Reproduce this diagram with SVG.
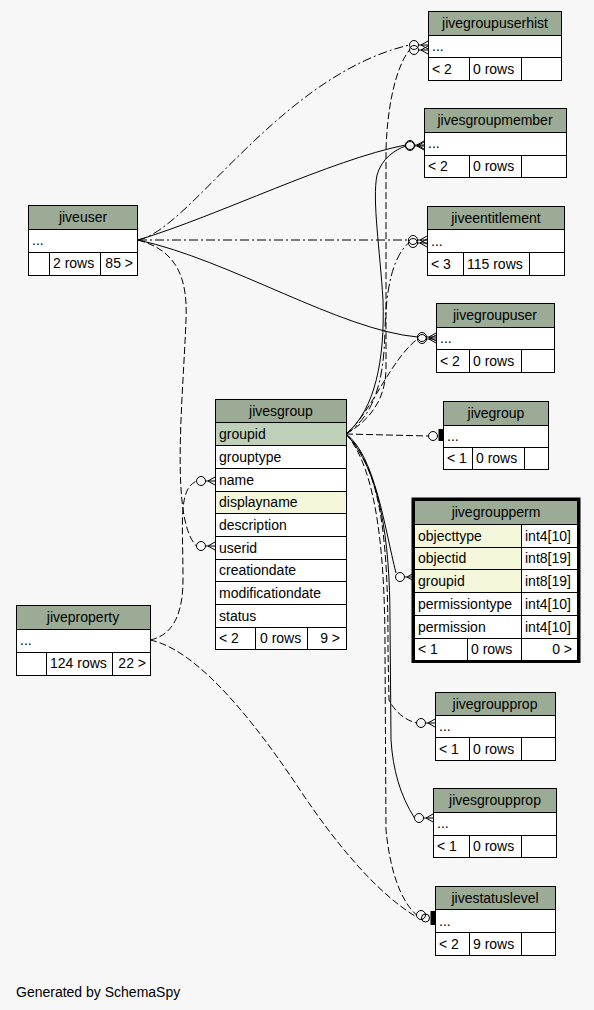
<svg xmlns="http://www.w3.org/2000/svg" xmlns:xlink="http://www.w3.org/1999/xlink" width="594" height="1010" viewBox="0 0 594 1010">
<style>
.t{font-family:"Liberation Sans",Arial,Helvetica,sans-serif;font-size:14px;fill:#000}
.c{text-anchor:middle}
.r{text-anchor:end}
.hdr{fill:#9bab96;stroke:#000;stroke-width:1}
.cell{fill:#fff;stroke:#000;stroke-width:1}
.pk{fill:#bed1b8;stroke:#000;stroke-width:1}
.idx{fill:#f4f7da;stroke:#000;stroke-width:1}
.e{fill:none;stroke:#000;stroke-width:1}
.d{stroke-dasharray:7,3}
.dd{stroke-dasharray:9,3,2,3}
.mk{fill:none;stroke:#000;stroke-width:1}
</style>
<defs>
<g id="cf" class="mk">
<circle cx="-14" cy="0" r="4.5"/>
<path d="M-9.5,0 L0,0 M-7,0 L0,-4 M-7,0 L0,4"/>
</g>
</defs>
<rect x="0" y="0" width="594" height="1010" fill="#f7f7f7"/>

<g id="connectors">
<path class="e dd" d="M138,240 C190,230 280,75 409.5,45"/>
<path class="e d" d="M346,434 C370,420 385,400 386,370 L386,150 C387,110 395,68 409.5,50"/>
<path class="e" d="M138,240 C220,215 330,160 405.5,145"/>
<path class="e" d="M346,434 C375,410 385,360 383,300 C380,250 372,200 377,175 C382,158 395,150 405.5,146"/>
<path class="e dd" d="M138,240 L408.5,240"/>
<path class="e dd" d="M346,434 C375,415 384,380 385,330 C386,290 392,258 408.5,243"/>
<path class="e" d="M138,240 C230,260 340,330 417.5,337"/>
<path class="e d" d="M346,434 C370,415 390,360 417.5,339"/>
<path class="e d" d="M346,434 L428.5,436"/>
<path class="e" d="M346,434 C375,455 385,530 396,573"/>
<path class="e d" d="M346,434 C385,470 388,560 388,650 L389,700 C395,712 405,720 416.5,723"/>
<path class="e" d="M346,434 C380,470 390,540 390,620 L391,740 C393,770 400,795 414.5,818"/>
<path class="e d" d="M346,434 C378,470 385,560 385,650 L386,830 C390,870 400,900 416.5,915"/>
<path class="e d" d="M138,240 C175,250 188,275 186,320 C183,400 170,520 196.5,546"/>
<path class="e d" d="M150,640 C175,635 183,610 183,580 C183,520 178,490 196.5,481"/>
<path class="e d" d="M150,640 C200,650 260,730 300,790 C340,850 380,895 416.5,917"/>
<use href="#cf" xlink:href="#cf" x="428" y="45"/>
<use href="#cf" xlink:href="#cf" x="428" y="50"/>
<use href="#cf" xlink:href="#cf" x="424" y="145"/>
<use href="#cf" xlink:href="#cf" x="424" y="146"/>
<use href="#cf" xlink:href="#cf" x="427" y="240"/>
<use href="#cf" xlink:href="#cf" x="427" y="243"/>
<use href="#cf" xlink:href="#cf" x="436" y="337"/>
<use href="#cf" xlink:href="#cf" x="436" y="339"/>
<use href="#cf" xlink:href="#cf" x="414" y="577"/>
<use href="#cf" xlink:href="#cf" x="435" y="723"/>
<use href="#cf" xlink:href="#cf" x="433" y="818"/>
<use href="#cf" xlink:href="#cf" x="215" y="481"/>
<use href="#cf" xlink:href="#cf" x="215" y="546"/>
<circle class="mk" cx="433" cy="436" r="4.5"/>
<rect x="438.5" y="429" width="4.5" height="12" fill="#000"/>
<circle class="mk" cx="421" cy="915" r="4.5"/>
<circle class="mk" cx="425.5" cy="918" r="4"/>
<rect x="430.5" y="911" width="4.5" height="14" fill="#000"/>
</g>

<g id="jivegroupuserhist">
<rect class="hdr" x="428.5" y="11.5" width="133" height="24"/>
<rect class="cell" x="428.5" y="35.5" width="133" height="22"/>
<rect class="cell" x="428.5" y="57.5" width="41" height="23"/>
<rect class="cell" x="469.5" y="57.5" width="52" height="23"/>
<rect class="cell" x="521.5" y="57.5" width="40" height="23"/>
<text class="t c" x="495" y="28">jivegroupuserhist</text>
<text class="t" x="432" y="51">...</text>
<text class="t" x="432" y="74">&lt; 2</text>
<text class="t" x="473" y="74">0 rows</text>
</g>

<g id="jivesgroupmember">
<rect class="hdr" x="424.5" y="108.5" width="142" height="24"/>
<rect class="cell" x="424.5" y="132.5" width="142" height="23"/>
<rect class="cell" x="424.5" y="155.5" width="45" height="22"/>
<rect class="cell" x="469.5" y="155.5" width="52" height="22"/>
<rect class="cell" x="521.5" y="155.5" width="45" height="22"/>
<text class="t c" x="495" y="125">jivesgroupmember</text>
<text class="t" x="428" y="148">...</text>
<text class="t" x="428" y="171">&lt; 2</text>
<text class="t" x="473" y="171">0 rows</text>
</g>

<g id="jiveentitlement">
<rect class="hdr" x="427.5" y="206.5" width="137" height="23"/>
<rect class="cell" x="427.5" y="229.5" width="137" height="23"/>
<rect class="cell" x="427.5" y="252.5" width="36" height="23"/>
<rect class="cell" x="463.5" y="252.5" width="66" height="23"/>
<rect class="cell" x="529.5" y="252.5" width="35" height="23"/>
<text class="t c" x="496" y="223">jiveentitlement</text>
<text class="t" x="431" y="246">...</text>
<text class="t" x="431" y="269">&lt; 3</text>
<text class="t" x="467" y="269">115 rows</text>
</g>

<g id="jivegroupuser">
<rect class="hdr" x="436.5" y="303.5" width="118" height="24"/>
<rect class="cell" x="436.5" y="327.5" width="118" height="22"/>
<rect class="cell" x="436.5" y="349.5" width="33" height="23"/>
<rect class="cell" x="469.5" y="349.5" width="52" height="23"/>
<rect class="cell" x="521.5" y="349.5" width="33" height="23"/>
<text class="t c" x="495" y="320">jivegroupuser</text>
<text class="t" x="440" y="343">...</text>
<text class="t" x="440" y="366">&lt; 2</text>
<text class="t" x="473" y="366">0 rows</text>
</g>

<g id="jivegroup">
<rect class="hdr" x="443.5" y="401.5" width="105" height="24"/>
<rect class="cell" x="443.5" y="425.5" width="105" height="22"/>
<rect class="cell" x="443.5" y="447.5" width="29" height="22"/>
<rect class="cell" x="472.5" y="447.5" width="52" height="22"/>
<rect class="cell" x="524.5" y="447.5" width="24" height="22"/>
<text class="t c" x="496" y="418">jivegroup</text>
<text class="t" x="447" y="441">...</text>
<text class="t" x="447" y="463">&lt; 1</text>
<text class="t" x="476" y="463">0 rows</text>
</g>

<g id="jivegroupperm">
<rect class="hdr" x="414.5" y="500.5" width="163" height="24"/>
<rect class="idx" x="414.5" y="524.5" width="107" height="23"/>
<rect class="cell" x="521.5" y="524.5" width="56" height="23"/>
<rect class="idx" x="414.5" y="547.5" width="107" height="22"/>
<rect class="cell" x="521.5" y="547.5" width="56" height="22"/>
<rect class="idx" x="414.5" y="569.5" width="107" height="23"/>
<rect class="cell" x="521.5" y="569.5" width="56" height="23"/>
<rect class="cell" x="414.5" y="592.5" width="107" height="23"/>
<rect class="cell" x="521.5" y="592.5" width="56" height="23"/>
<rect class="cell" x="414.5" y="615.5" width="107" height="23"/>
<rect class="cell" x="521.5" y="615.5" width="56" height="23"/>
<rect class="cell" x="414.5" y="638.5" width="53" height="22"/>
<rect class="cell" x="467.5" y="638.5" width="54" height="22"/>
<rect class="cell" x="521.5" y="638.5" width="56" height="22"/>
<rect x="413" y="499" width="166" height="162.5" fill="none" stroke="#000" stroke-width="3"/>
<text class="t c" x="496" y="517">jivegroupperm</text>
<text class="t" x="418" y="541">objecttype</text>
<text class="t" x="525" y="541">int4[10]</text>
<text class="t" x="418" y="563">objectid</text>
<text class="t" x="525" y="563">int8[19]</text>
<text class="t" x="418" y="586">groupid</text>
<text class="t" x="525" y="586">int8[19]</text>
<text class="t" x="418" y="609">permissiontype</text>
<text class="t" x="525" y="609">int4[10]</text>
<text class="t" x="418" y="632">permission</text>
<text class="t" x="525" y="632">int4[10]</text>
<text class="t" x="418" y="654">&lt; 1</text>
<text class="t" x="471" y="654">0 rows</text>
<text class="t r" x="572" y="654">0 &gt;</text>
</g>

<g id="jiveuser">
<rect class="hdr" x="28.5" y="205.5" width="109" height="24"/>
<rect class="cell" x="28.5" y="229.5" width="109" height="23"/>
<rect class="cell" x="28.5" y="252.5" width="21" height="23"/>
<rect class="cell" x="49.5" y="252.5" width="51" height="23"/>
<rect class="cell" x="100.5" y="252.5" width="37" height="23"/>
<text class="t c" x="83" y="222">jiveuser</text>
<text class="t" x="32" y="245">...</text>
<text class="t" x="53" y="268">2 rows</text>
<text class="t r" x="133" y="268">85 &gt;</text>
</g>

<g id="jivesgroup">
<rect class="hdr" x="215.5" y="399.5" width="131" height="23"/>
<rect class="pk" x="215.5" y="422.5" width="131" height="23"/>
<rect class="cell" x="215.5" y="445.5" width="131" height="23"/>
<rect class="cell" x="215.5" y="468.5" width="131" height="23"/>
<rect class="idx" x="215.5" y="491.5" width="131" height="22"/>
<rect class="cell" x="215.5" y="513.5" width="131" height="23"/>
<rect class="cell" x="215.5" y="536.5" width="131" height="23"/>
<rect class="cell" x="215.5" y="559.5" width="131" height="22"/>
<rect class="cell" x="215.5" y="581.5" width="131" height="23"/>
<rect class="cell" x="215.5" y="604.5" width="131" height="23"/>
<rect class="cell" x="215.5" y="627.5" width="40" height="22"/>
<rect class="cell" x="255.5" y="627.5" width="52" height="22"/>
<rect class="cell" x="307.5" y="627.5" width="39" height="22"/>
<text class="t c" x="281" y="416">jivesgroup</text>
<text class="t" x="219" y="439">groupid</text>
<text class="t" x="219" y="462">grouptype</text>
<text class="t" x="219" y="485">name</text>
<text class="t" x="219" y="507">displayname</text>
<text class="t" x="219" y="530">description</text>
<text class="t" x="219" y="553">userid</text>
<text class="t" x="219" y="575">creationdate</text>
<text class="t" x="219" y="598">modificationdate</text>
<text class="t" x="219" y="621">status</text>
<text class="t" x="219" y="643">&lt; 2</text>
<text class="t" x="260" y="643">0 rows</text>
<text class="t r" x="340" y="643">9 &gt;</text>
</g>

<g id="jiveproperty">
<rect class="hdr" x="16.5" y="605.5" width="134" height="24"/>
<rect class="cell" x="16.5" y="629.5" width="134" height="23"/>
<rect class="cell" x="16.5" y="652.5" width="30" height="23"/>
<rect class="cell" x="46.5" y="652.5" width="66" height="23"/>
<rect class="cell" x="112.5" y="652.5" width="38" height="23"/>
<text class="t c" x="83" y="622">jiveproperty</text>
<text class="t" x="20" y="645">...</text>
<text class="t" x="50" y="668">124 rows</text>
<text class="t r" x="146" y="668">22 &gt;</text>
</g>

<g id="jivegroupprop">
<rect class="hdr" x="435.5" y="692.5" width="120" height="23"/>
<rect class="cell" x="435.5" y="715.5" width="120" height="22"/>
<rect class="cell" x="435.5" y="737.5" width="34" height="23"/>
<rect class="cell" x="469.5" y="737.5" width="52" height="23"/>
<rect class="cell" x="521.5" y="737.5" width="34" height="23"/>
<text class="t c" x="495" y="709">jivegroupprop</text>
<text class="t" x="439" y="731">...</text>
<text class="t" x="439" y="754">&lt; 1</text>
<text class="t" x="473" y="754">0 rows</text>
</g>

<g id="jivesgroupprop">
<rect class="hdr" x="433.5" y="788.5" width="123" height="24"/>
<rect class="cell" x="433.5" y="812.5" width="123" height="23"/>
<rect class="cell" x="433.5" y="835.5" width="36" height="22"/>
<rect class="cell" x="469.5" y="835.5" width="52" height="22"/>
<rect class="cell" x="521.5" y="835.5" width="35" height="22"/>
<text class="t c" x="495" y="805">jivesgroupprop</text>
<text class="t" x="437" y="828">...</text>
<text class="t" x="437" y="851">&lt; 1</text>
<text class="t" x="473" y="851">0 rows</text>
</g>

<g id="jivestatuslevel">
<rect class="hdr" x="435.5" y="886.5" width="120" height="23"/>
<rect class="cell" x="435.5" y="909.5" width="120" height="23"/>
<rect class="cell" x="435.5" y="932.5" width="34" height="23"/>
<rect class="cell" x="469.5" y="932.5" width="52" height="23"/>
<rect class="cell" x="521.5" y="932.5" width="34" height="23"/>
<text class="t c" x="495" y="903">jivestatuslevel</text>
<text class="t" x="439" y="926">...</text>
<text class="t" x="439" y="949">&lt; 2</text>
<text class="t" x="473" y="949">9 rows</text>
</g>

<text class="t" x="16" y="997">Generated by SchemaSpy</text>
</svg>
